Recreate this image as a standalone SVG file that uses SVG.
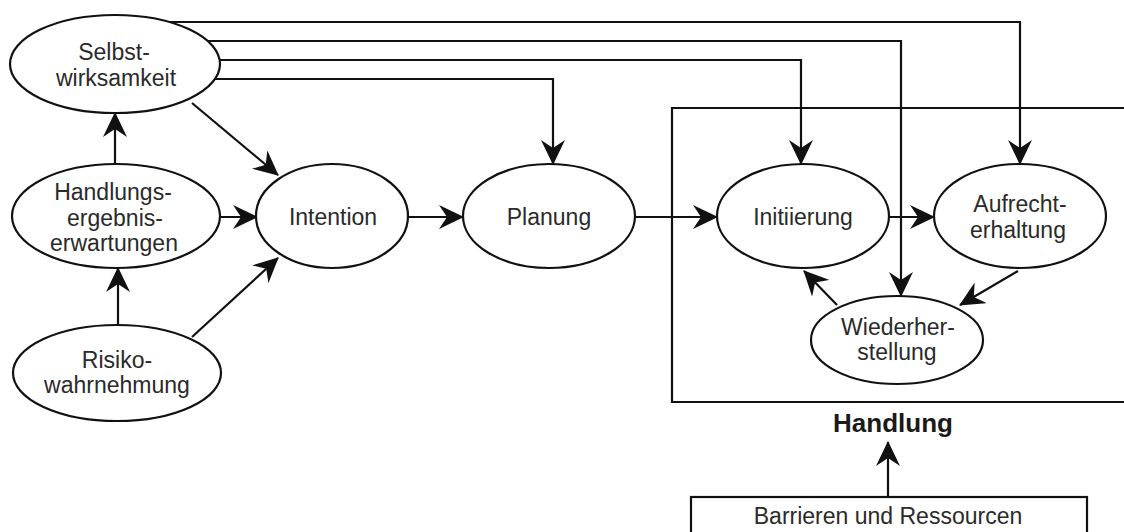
<svg xmlns="http://www.w3.org/2000/svg" width="1124" height="532" viewBox="0 0 1124 532">
<style>
.n{fill:#fff;stroke:#111;stroke-width:2.2}
.t{font-family:"Liberation Sans",Arial,sans-serif;font-size:23px;fill:#2a2a2a;text-anchor:middle}
.b{font-family:"Liberation Sans",Arial,sans-serif;font-size:26px;font-weight:bold;fill:#1a1a1a;text-anchor:middle}
.c{fill:none;stroke:#111;stroke-width:2.2;marker-end:url(#ah)}
</style>
<defs>
<marker id="ah" viewBox="0 0 25 24" refX="24" refY="12" markerWidth="25" markerHeight="24" markerUnits="userSpaceOnUse" orient="auto">
<path d="M0,0 L25,12 L0,24 L8,12 z" fill="#111"/>
</marker>
</defs>
<rect width="1124" height="532" fill="#fff"/>
<g id="handlung">
<path d="M1130,108 H672 V402 H1130" fill="none" stroke="#111" stroke-width="2.2"/>
<text class="b" x="893" y="432">Handlung</text>
</g>
<g id="connectors">
<path class="c" d="M170,22 H1020 V164"/>
<path class="c" d="M208,41 H901 V296"/>
<path class="c" d="M220,60 H801 V164"/>
<path class="c" d="M215,79 H553 V164"/>
<path class="c" d="M192,103 L278,175"/>
<path class="c" d="M115,164 V113"/>
<path class="c" d="M220,217 H257"/>
<path class="c" d="M118,325 V268"/>
<path class="c" d="M192,337 L278,258"/>
<path class="c" d="M408,217 H463"/>
<path class="c" d="M635,217 H717"/>
<path class="c" d="M889,217 H934"/>
<path class="c" d="M1018,271 L960,305"/>
<path class="c" d="M837,305 L804,271"/>
<path class="c" d="M888,497 V442"/>
</g>
<g id="selbst">
<ellipse class="n" cx="115" cy="64" rx="105" ry="49"/>
<text class="t" x="114" y="60">Selbst-</text>
<text class="t" x="116" y="86">wirksamkeit</text>
</g>
<g id="handlungsergebnis">
<ellipse class="n" cx="116" cy="216" rx="104" ry="52"/>
<text class="t" x="113" y="200">Handlungs-</text>
<text class="t" x="115" y="226">ergebnis-</text>
<text class="t" x="114" y="251">erwartungen</text>
</g>
<g id="risiko">
<ellipse class="n" cx="117" cy="373" rx="104" ry="48"/>
<text class="t" x="117" y="368">Risiko-</text>
<text class="t" x="117" y="393">wahrnehmung</text>
</g>
<g id="intention">
<ellipse class="n" cx="332" cy="216" rx="76" ry="52"/>
<text class="t" x="333" y="225">Intention</text>
</g>
<g id="planung">
<ellipse class="n" cx="549" cy="216" rx="86" ry="52"/>
<text class="t" x="549" y="225">Planung</text>
</g>
<g id="initiierung">
<ellipse class="n" cx="803" cy="216" rx="86" ry="52"/>
<text class="t" x="803" y="225">Initiierung</text>
</g>
<g id="aufrechterhaltung">
<ellipse class="n" cx="1020" cy="216" rx="86" ry="52"/>
<text class="t" x="1020" y="212">Aufrecht-</text>
<text class="t" x="1018" y="238">erhaltung</text>
</g>
<g id="wiederherstellung">
<ellipse class="n" cx="897" cy="340" rx="86" ry="44"/>
<text class="t" x="898" y="335">Wiederher-</text>
<text class="t" x="897" y="360">stellung</text>
</g>
<g id="barrieren">
<rect class="n" x="691" y="497" width="396" height="50"/>
<text class="t" x="888" y="524">Barrieren und Ressourcen</text>
</g>
</svg>
